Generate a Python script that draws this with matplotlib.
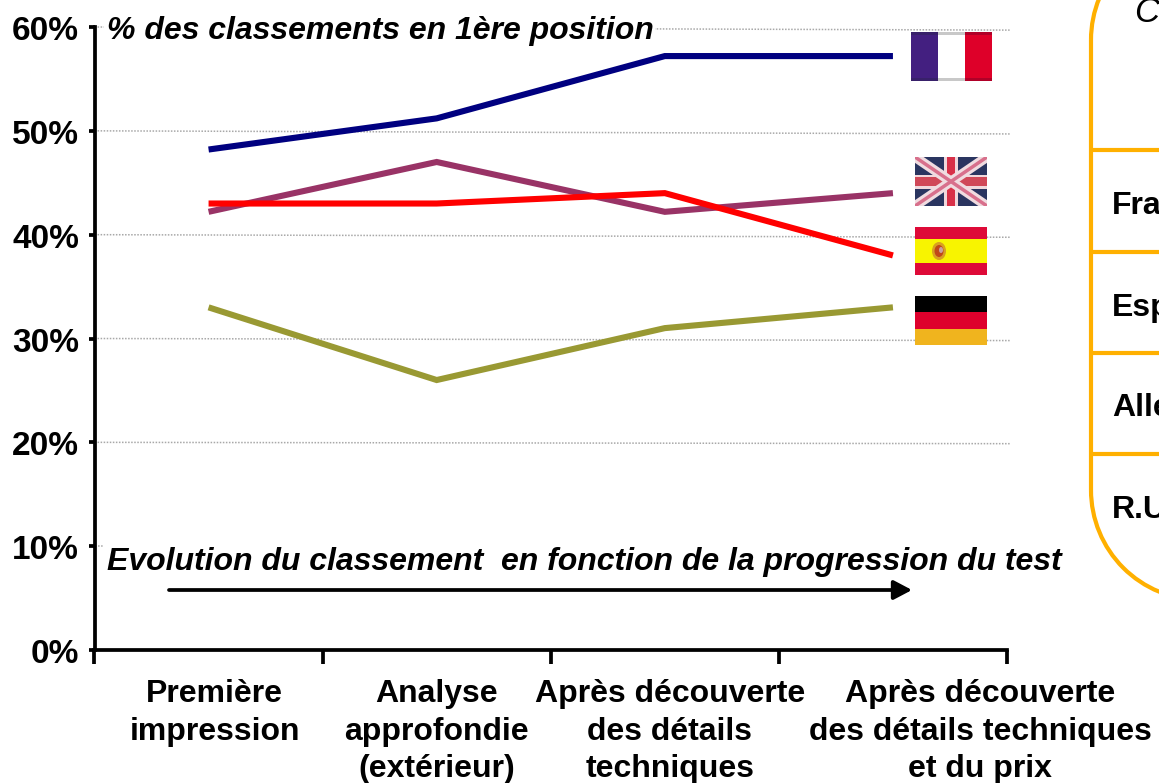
import matplotlib
matplotlib.use("Agg")
import matplotlib.pyplot as plt
from matplotlib.patches import Rectangle, Ellipse, Arc
from matplotlib.ticker import FuncFormatter
from matplotlib.transforms import ScaledTranslation

plt.rcParams['font.family'] = ['Liberation Sans', 'DejaVu Sans']

categories = ["Première\nimpression", "Analyse\napprofondie\n(extérieur)",
              "Après découverte\ndes détails\ntechniques",
              "Après découverte\ndes détails techniques\net du prix"]
france = [48.2, 51.2, 57.2, 57.2]
royaume_uni = [42.2, 47.0, 42.2, 44.0]
espagne = [43.0, 43.0, 44.0, 38.0]
allemagne = [33.0, 26.0, 31.0, 33.0]
y_ticks = [0, 10, 20, 30, 40, 50, 60]
grid_left = [60.0, 50.0, 40.0, 30.0, 20.0, 10.0]
grid_right = [59.7, 49.7, 39.75, 29.8, 19.87, 10.0]
table_rows = ["Fra", "Esp", "Alle", "R.U"]

W, H = 1159, 783
FS = 23
fig = plt.figure(figsize=(W / 100, H / 100), dpi=100)
fig.patch.set_facecolor('white')
L, R, T, B = 94.5, 1007, 27, 650
ax = fig.add_axes([L / W, 1 - B / H, (R - L) / W, (B - T) / H])
ax.set_xlim(-0.5, 3.5)
ax.set_ylim(0, 60)
xs = range(len(categories))
for vals, col in [(france, '#000080'), (royaume_uni, '#993366'),
                  (espagne, '#FF0000'), (allemagne, '#999933')]:
    ax.plot(xs, vals, color=col, lw=4.4, solid_capstyle='butt',
            solid_joinstyle='miter', zorder=3)
for s in ['top', 'right']:
    ax.spines[s].set_visible(False)
for s in ['left', 'bottom']:
    ax.spines[s].set_linewidth(2.7)
    ax.spines[s].set_zorder(5)
ax.set_yticks(y_ticks)
ax.yaxis.set_major_formatter(FuncFormatter(lambda v, p: f"{int(v)}%"))
ax.set_xticks([-0.5, 0.5, 1.5, 2.5, 3.5])
ax.set_xticklabels([])
ax.tick_params(axis='x', length=10, width=2.7, direction='out')
ax.tick_params(axis='y', length=4.5, width=2.7, direction='out', pad=6.5)
down = ScaledTranslation(0, -1.0 / 100, fig.dpi_scale_trans)
for lab in ax.get_yticklabels():
    lab.set_fontsize(24)
    lab.set_fontweight('bold')
    lab.set_transform(lab.get_transform() + down)
for a, b in zip(grid_left, grid_right):
    ax.plot([0, 1.004], [a, b], transform=ax.get_yaxis_transform(), clip_on=False,
            color='#a8a8a8', lw=1.1, ls=(0, (1, 1)), zorder=1)
ax.set_ylim(0, 60)

label_shift_px = [6, 0, 5, 87]
for i, c in enumerate(categories):
    ax.annotate(c, (i, 0), xytext=(label_shift_px[i] * 0.72, -21), textcoords='offset points',
                ha='center', va='top', fontsize=FS, fontweight='bold',
                linespacing=1.32, annotation_clip=False)

# overlay in pixel space
ov = fig.add_axes([0, 0, 1, 1])
ov.set_xlim(0, W)
ov.set_ylim(H, 0)
ov.axis('off')
ov.patch.set_alpha(0)
ov.add_patch(Rectangle((104, 14), 551, 34, color='white', lw=0))
ov.add_patch(Rectangle((104, 540), 962, 36, color='white', lw=0))
ov.text(107, 31, "% des classements en 1ère position", fontsize=FS, fontweight='bold',
        style='italic', va='center', ha='left')
ov.text(107, 562, "Evolution du classement  en fonction de la progression du test",
        fontsize=FS + 0.07, fontweight='bold', style='italic', va='center', ha='left')
ov.annotate("", xy=(912, 590), xytext=(169, 590),
            arrowprops=dict(arrowstyle='-|>,head_length=0.55,head_width=0.29', mutation_scale=20,
                            color='black', lw=2.7, shrinkA=0, shrinkB=0))


def stripes_v(x, y, w, h, cols):
    n = len(cols)
    for i, c in enumerate(cols):
        ov.add_patch(Rectangle((x + i * w / n, y), w / n, h, color=c, lw=0))


def stripes_h(x, y, w, h, cols, fr):
    cy = y
    for c, f in zip(cols, fr):
        ov.add_patch(Rectangle((x, cy), w, h * f, color=c, lw=0))
        cy += h * f


# France
stripes_v(911, 32, 81, 49, ['#431F80', '#FFFFFF', '#DE0029'])
for yb, hb in [(32, 3), (78, 3)]:
    ov.add_patch(Rectangle((938, yb), 27, hb, color='#c8c8c8', lw=0))
    ov.add_patch(Rectangle((911, yb), 27, hb, color='#38206A', lw=0))
    ov.add_patch(Rectangle((965, yb), 27, hb, color='#B00028', lw=0))
# UK
x0, y0, w, h = 915, 157, 72, 49
ov.add_patch(Rectangle((x0, y0), w, h, color='#2A3560', lw=0))
clip = Rectangle((x0, y0), w, h, transform=ov.transData)
for (a, b, cc, lw) in [((x0, y0), (x0 + w, y0 + h), '#F0DCE0', 7), ((x0, y0 + h), (x0 + w, y0), '#F0DCE0', 7),
                       ((x0, y0), (x0 + w, y0 + h), '#D8708C', 2.5), ((x0, y0 + h), (x0 + w, y0), '#D8708C', 2.5)]:
    l, = ov.plot([a[0], b[0]], [a[1], b[1]], color=cc, lw=lw, solid_capstyle='butt')
    l.set_clip_path(clip)
ov.add_patch(Rectangle((x0 + 29, y0), 14, h, color='#F0D8DC', lw=0))
ov.add_patch(Rectangle((x0, y0 + 18), w, 14, color='#F0D8DC', lw=0))
ov.add_patch(Rectangle((x0 + 32, y0), 8, h, color='#D83048', lw=0))
ov.add_patch(Rectangle((x0, y0 + 20), w, 9, color='#D04858', lw=0))
# Spain
stripes_h(915, 227, 72, 48, ['#DE0A38', '#F8F400', '#DE0A38'], [0.25, 0.5, 0.25])
ov.add_patch(Ellipse((939, 251), 14, 18, color='#D8A020', lw=0))
ov.add_patch(Ellipse((939, 251), 9, 12, color='#C04818', lw=0))
ov.add_patch(Ellipse((941, 250), 4, 6, color='#C8A0A0', lw=0))
# Germany
stripes_h(915, 296, 72, 49, ['#000000', '#DE002C', '#F0B41E'], [1 / 3, 1 / 3, 1 / 3])

# table box, cut by the right edge
ORANGE = '#FFB000'
BLW = 3.0
RAD = 110
ov.plot([1091, 1091], [40, 490], color=ORANGE, lw=BLW, solid_capstyle='butt')
ov.add_patch(Arc((1091 + RAD, 490), 2 * RAD, 2 * RAD, theta1=90, theta2=180, color=ORANGE, lw=BLW))
ov.add_patch(Arc((1091 + RAD, 40), 2 * RAD, 2 * RAD, theta1=180, theta2=270, color=ORANGE, lw=BLW))
for yy in [150, 252, 353, 454]:
    ov.plot([1091, W], [yy, yy], color=ORANGE, lw=BLW, solid_capstyle='butt')
ov.text(1147, 12, "C", fontsize=FS + 2, style='italic', va='center', ha='center')
for t, yy in zip(table_rows, [206, 308, 408, 510]):
    ov.text(1112, yy, t, fontsize=FS, fontweight='bold', va='center', ha='left')
ov.set_xlim(0, W)
ov.set_ylim(H, 0)
fig.savefig('out.png', dpi=100)
